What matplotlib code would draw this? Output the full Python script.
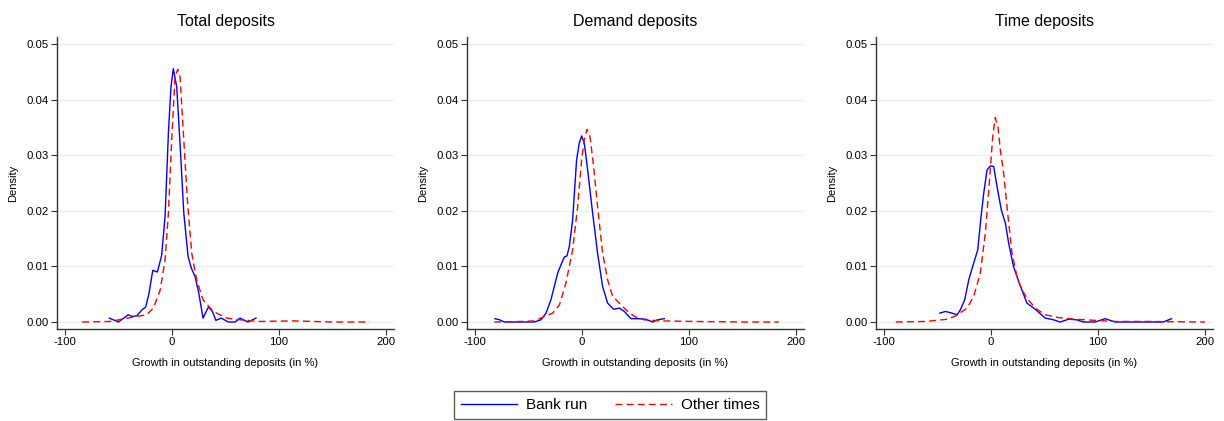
import numpy as np
import matplotlib.pyplot as plt

plt.rcParams['font.family'] = ['Liberation Sans', 'DejaVu Sans']
plt.rcParams['axes.unicode_minus'] = False

titles = ['Total deposits', 'Demand deposits', 'Time deposits']

# Bank run curves
run_x_total = [-58.6, -50, -41, -37, -33, -28, -24.6, -21.5, -18, -13.7, -9.7, -6.5, -3.4, -1, 1.2,
               4.4, 7.5, 11, 15, 18, 21.5, 25, 29, 34, 37.7, 41, 46, 52.6, 59, 63.5, 71, 78.5]
run_y_total = [0.0007, 0.0, 0.0013, 0.001, 0.0011, 0.0022, 0.0027, 0.0052, 0.0093, 0.009, 0.012, 0.019,
               0.034, 0.0423, 0.0456, 0.0423, 0.032, 0.0196, 0.0118, 0.0097, 0.0082, 0.0052, 0.0007,
               0.0027, 0.0019, 0.0003, 0.0007, 0.0, 0.0, 0.0007, 0.0, 0.0007]

run_x_demand = [-81.3, -77, -72.6, -44.5, -38.3, -33.6, -29, -22.7, -19.6, -16.5, -14, -11.8, -8.7, -5,
                -2.5, -0.3, 2.2, 5.3, 10, 14.6, 19.3, 24, 29.6, 35, 39.6, 45.8, 52, 59.8, 66, 70.7, 77]
run_y_demand = [0.0006, 0.0004, 0.0, 0.0, 0.0004, 0.0016, 0.004, 0.0088, 0.0103, 0.0117, 0.0119, 0.0136,
                0.0184, 0.0292, 0.0322, 0.0335, 0.0322, 0.0274, 0.0196, 0.0124, 0.0064, 0.0034, 0.0023,
                0.0025, 0.0019, 0.0006, 0.0006, 0.0005, 0.0, 0.0004, 0.0006]

run_x_time = [-47.9, -42.6, -36.4, -31.7, -28.6, -24.6, -20.8, -16.2, -12.4, -9.3, -6.8, -3.7, -0.6, 2.5,
              5.6, 9.6, 13.4, 16.5, 21, 26.4, 33.6, 41.3, 50.7, 58.4, 64.7, 72.4, 80, 86.4, 97.3, 106.6,
              116, 147, 161, 168.8]
run_y_time = [0.0016, 0.0019, 0.0016, 0.0013, 0.0022, 0.004, 0.0076, 0.0106, 0.013, 0.019, 0.0232, 0.0274,
              0.0281, 0.028, 0.0244, 0.0202, 0.0178, 0.0142, 0.01, 0.007, 0.0034, 0.0023, 0.0007, 0.0004,
              0.0, 0.0005, 0.0004, 0.0, 0.0, 0.0006, 0.0, 0.0, 0.0, 0.0006]

# Other times curves
oth_x_total = [-84, -58, -36, -23.7, -17.4, -11, -6.5, -3.4, -0.3, 2.8, 5.3, 7.5, 10.6, 14.3, 18.4, 23,
               29, 38.6, 51, 63.5, 82, 113, 151, 185]
oth_y_total = [0.0, 0.0001, 0.0009, 0.0013, 0.0025, 0.0058, 0.0112, 0.0196, 0.0328, 0.0441, 0.0455,
               0.0441, 0.034, 0.022, 0.0124, 0.0076, 0.004, 0.0019, 0.0007, 0.0004, 0.0001, 0.0002, 0.0, 0.0]

oth_x_demand = [-82, -57, -44.5, -35, -27.4, -21, -15, -8.7, -4, -0.3, 2.2, 4.7, 7.5, 10.9, 14.6, 19.3,
                24, 28.7, 35, 41, 49, 58, 74, 105, 152, 184]
oth_y_demand = [0.0, 0.0001, 0.0002, 0.001, 0.0016, 0.0031, 0.007, 0.013, 0.0208, 0.0292, 0.0328, 0.0347,
                0.0334, 0.028, 0.0208, 0.0124, 0.0076, 0.0046, 0.0034, 0.0022, 0.001, 0.0004, 0.0002,
                0.0001, 0.0, 0.0]

oth_x_time = [-89, -61, -41, -33, -22.4, -16.2, -10, -5.3, -1.6, 1.6, 4, 6.5, 8.7, 11.8, 15.9, 19.6, 24.2,
              29, 33.6, 41.3, 50.7, 63, 78.6, 97, 116, 147, 200]
oth_y_time = [0.0, 0.0001, 0.0005, 0.0011, 0.0025, 0.0046, 0.0088, 0.016, 0.025, 0.0334, 0.0368, 0.0351,
              0.031, 0.0268, 0.019, 0.0124, 0.0082, 0.0058, 0.0043, 0.0025, 0.0013, 0.0008, 0.0005,
              0.0003, 0.0001, 0.0001, 0.0]

run_series = [(run_x_total, run_y_total), (run_x_demand, run_y_demand), (run_x_time, run_y_time)]
oth_series = [(oth_x_total, oth_y_total), (oth_x_demand, oth_y_demand), (oth_x_time, oth_y_time)]

fig = plt.figure(figsize=(12.24, 4.21), dpi=100)
lefts = [0.0466, 0.3815, 0.7157]
axes = [fig.add_axes([l, 0.2185, 0.2753, 0.6936]) for l in lefts]

for ax, title, (rx, ry), (ox, oy) in zip(axes, titles, run_series, oth_series):
    ax.plot(rx, ry, color='#0000ff', lw=1.0, label='Bank run')
    ax.plot(ox, oy, color='#ff0000', lw=1.0, ls=(0, (5, 3)), label='Other times')
    ax.set_xlim(-107.5, 207.5)
    ax.set_ylim(-0.00126, 0.0513)
    ax.set_xticks([-100, 0, 100, 200])
    ax.set_yticks(np.arange(0, 0.051, 0.01))
    ax.set_yticklabels([f'{v:.2f}' for v in np.arange(0, 0.051, 0.01)])
    ax.grid(axis='y', color='#e8f0f2', lw=1)
    ax.set_axisbelow(True)
    for s in ['top', 'right']:
        ax.spines[s].set_visible(False)
    for s in ['left', 'bottom']:
        ax.spines[s].set_color('#333333')
        ax.spines[s].set_linewidth(1.0)
    ax.tick_params(labelsize=8.2, length=4, color='#333333', pad=2)
    ax.set_title(title, fontsize=11.5, pad=8)
    ax.set_ylabel('Density', fontsize=8, labelpad=6)
    ax.set_xlabel('Growth in outstanding deposits (in %)', fontsize=8, labelpad=8)

handles, labels = axes[0].get_legend_handles_labels()
fig.legend(handles, labels, loc='center', bbox_to_anchor=(0.4985, 0.038), ncol=2, fontsize=11,
           frameon=True, fancybox=False, edgecolor='#333333', handlelength=3.7, handletextpad=0.6,
           columnspacing=1.8, borderpad=0.45)

fig.savefig('out.png', dpi=100)
